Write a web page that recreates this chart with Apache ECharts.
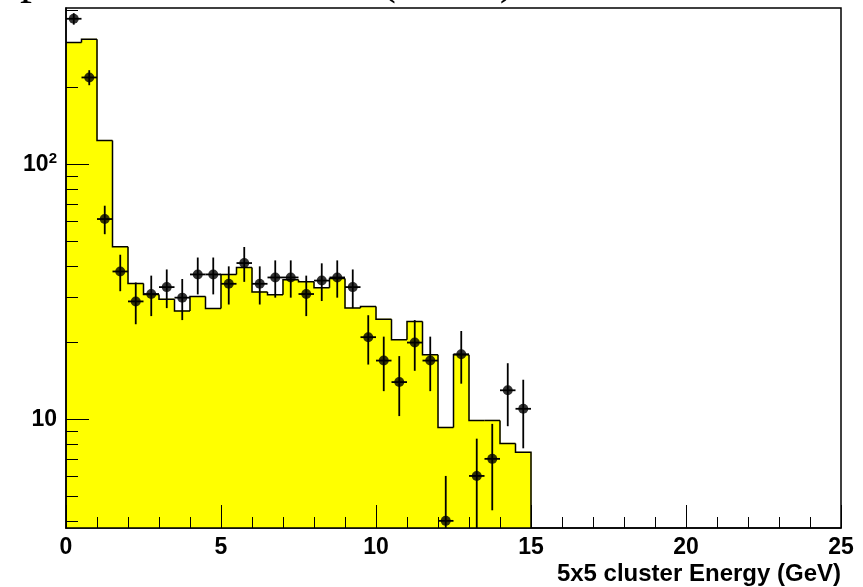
<!DOCTYPE html>
<html>
<head>
<meta charset="utf-8">
<script src="https://cdn.jsdelivr.net/npm/echarts@6/dist/echarts.min.js"></script>
<style>
html, body { margin: 0; padding: 0; background: #fff; }
#main { width: 863px; height: 587px; }
</style>
</head>
<body>
<div id="main"></div>
<script>
var dom = document.getElementById("main");
var myChart = echarts.init(dom);

// bin centres (GeV), bins are 0.5 GeV wide
var binCenters = [0.25, 0.75, 1.25, 1.75, 2.25, 2.75, 3.25, 3.75, 4.25, 4.75,
    5.25, 5.75, 6.25, 6.75, 7.25, 7.75, 8.25, 8.75, 9.25, 9.75,
    10.25, 10.75, 11.25, 11.75, 12.25, 12.75, 13.25, 13.75, 14.25, 14.75];
var binWidth = 0.5;

// yellow histogram (simulation)
var mcCounts = [300, 309, 124, 47.5, 34.1, 30.9, 29.6, 26.6, 30.3, 27.2,
    37.0, 39.4, 31.6, 30.8, 35.3, 34.6, 32.8, 35.7, 27.3, 27.7,
    24.7, 20.5, 24.2, 17.9, 9.3, 17.9, 9.9, 9.9, 8.05, 7.43];

// black points (data) and their error bars
var dataCounts = [372, 219, 61, 38, 29, 31, 33, 30, 37, 37,
    34, 41, 34, 36, 36, 31, 35, 36, 33, 21,
    17, 14, 20, 17, 4, 18, 6, 7, 13, 11];
var dataErrors = [19.3, 14.8, 7.8, 6.2, 5.4, 5.6, 5.7, 5.5, 6.1, 6.1,
    5.8, 6.4, 5.8, 6.0, 6.0, 5.6, 5.9, 6.0, 5.7, 4.6,
    4.1, 3.7, 4.5, 4.1, 2.0, 4.2, 2.4, 2.6, 3.6, 3.3];

// axis ranges and ticks
var xMin = 0, xMax = 25;
var yMin = 3.75, yMax = 410;
var yMajorTicks = [10, 100];
var yMinorTicks = [4, 5, 6, 7, 8, 9, 20, 30, 40, 50, 60, 70, 80, 90, 200, 300, 400];

var labelFont = 'Liberation Sans';

function renderFill(params, api) {
    var c = api.value(0);
    var top = api.coord([c - binWidth / 2, api.value(1)]);
    var bottom = api.coord([c + binWidth / 2, yMin]);
    return {
        type: 'rect',
        shape: { x: top[0], y: top[1], width: bottom[0] - top[0], height: bottom[1] - top[1] },
        style: { fill: '#ffff00', stroke: '#ffff00', lineWidth: 1 }
    };
}

function renderOutline(params, api) {
    var i = params.dataIndex;
    var c = api.value(0);
    var prev = i > 0 ? mcCounts[i - 1] : yMin;
    var pts = [
        api.coord([c - binWidth / 2, prev]),
        api.coord([c - binWidth / 2, api.value(1)]),
        api.coord([c + binWidth / 2, api.value(1)])
    ];
    if (i === mcCounts.length - 1) {
        pts.push(api.coord([c + binWidth / 2, yMin]));
    }
    return {
        type: 'polyline',
        shape: { points: pts },
        style: { stroke: '#000', lineWidth: 1.5, fill: null }
    };
}

function renderErrors(params, api) {
    var c = api.value(0), v = api.value(1), e = api.value(2);
    var lo = api.coord([c, Math.max(v - e, yMin * 0.5)]);
    var hi = api.coord([c, v + e]);
    var left = api.coord([c - binWidth / 2, v]);
    var right = api.coord([c + binWidth / 2, v]);
    return {
        type: 'group',
        children: [{
            type: 'line',
            shape: { x1: lo[0], y1: lo[1], x2: hi[0], y2: hi[1] },
            style: { stroke: '#000', lineWidth: 1.8 }
        }, {
            type: 'line',
            shape: { x1: left[0], y1: left[1], x2: right[0], y2: right[1] },
            style: { stroke: '#000', lineWidth: 1.8 }
        }]
    };
}

var option = {
    animation: false,
    grid: {
        left: 66, right: 22, top: 8, bottom: 59,
        show: true, borderColor: '#000', borderWidth: 1.5, backgroundColor: 'transparent'
    },
    graphic: [{
        type: 'text',
        x: 20, y: 4,
        style: {
            text: 'photon candidates (event)',
            font: '48px "Liberation Serif"',
            fill: '#000',
            verticalAlign: 'bottom'
        }
    }, {
        type: 'text',
        right: 22, bottom: 1,
        style: {
            text: '5x5 cluster Energy (GeV)',
            font: 'bold 24px "Liberation Sans"',
            fill: '#000'
        }
    }],
    xAxis: {
        type: 'value',
        z: 10,
        min: xMin, max: xMax, interval: 5,
        axisLine: { onZero: false, lineStyle: { color: '#000', width: 1.5 } },
        axisTick: { inside: true, length: 23, lineStyle: { color: '#000', width: 1 } },
        minorTick: { show: true, splitNumber: 5, length: 11, lineStyle: { color: '#000', width: 1 } },
        splitLine: { show: false },
        axisLabel: { color: '#000', fontFamily: labelFont, fontWeight: 'bold', fontSize: 23, margin: 8 }
    },
    yAxis: [{
        type: 'log', logBase: 10,
        z: 10,
        min: yMin, max: yMax, position: 'left',
        axisLine: { lineStyle: { color: '#000', width: 1.5 } },
        axisTick: { inside: true, length: 23, customValues: yMajorTicks, lineStyle: { color: '#000', width: 1 } },
        splitLine: { show: false },
        axisLabel: {
            customValues: yMajorTicks,
            color: '#000', fontFamily: labelFont, fontWeight: 'bold', fontSize: 23, margin: 9,
            formatter: function (v) {
                var p = Math.round(Math.log(v) / Math.LN10);
                return p === 1 ? '10' : '10{sup|' + p + '}';
            },
            rich: {
                sup: { fontFamily: labelFont, fontWeight: 'bold', fontSize: 15, color: '#000', verticalAlign: 'top', padding: [0, 0, 10, 0] }
            }
        }
    }, {
        type: 'log', logBase: 10,
        z: 10,
        min: yMin, max: yMax, position: 'left', offset: 0,
        axisLine: { show: false },
        axisTick: { inside: true, length: 12, customValues: yMinorTicks, lineStyle: { color: '#000', width: 1 } },
        axisLabel: { show: false },
        splitLine: { show: false }
    }],
    series: [{
        type: 'custom',
        renderItem: renderFill,
        clip: true,
        encode: { x: 0, y: 1 },
        data: binCenters.map(function (c, i) { return [c, mcCounts[i]]; }),
        silent: true
    }, {
        type: 'custom',
        renderItem: renderOutline,
        clip: true,
        encode: { x: 0, y: 1 },
        data: binCenters.map(function (c, i) { return [c, mcCounts[i]]; }),
        silent: true
    }, {
        type: 'custom',
        renderItem: renderErrors,
        clip: true,
        encode: { x: 0, y: 1 },
        data: binCenters.map(function (c, i) { return [c, dataCounts[i], dataErrors[i]]; }),
        silent: true
    }, {
        type: 'scatter',
        symbol: 'circle',
        symbolSize: 10,
        itemStyle: { color: '#000' },
        data: binCenters.map(function (c, i) { return [c, dataCounts[i]]; }),
        silent: true
    }]
};

if (option && typeof option === "object") {
    myChart.setOption(option, true);
}
</script>
</body>
</html>
